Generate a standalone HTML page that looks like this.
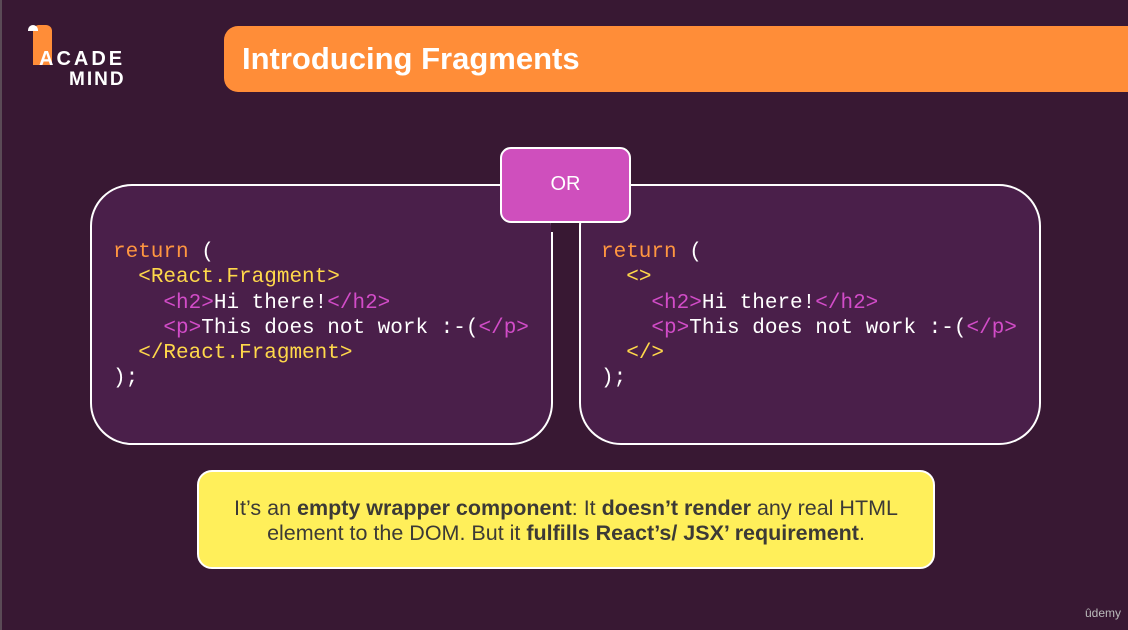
<!DOCTYPE html>
<html><head><meta charset="utf-8"><style>
*{margin:0;padding:0;box-sizing:border-box}
body{width:1128px;height:630px;background:#381833;position:relative;overflow:hidden;font-family:"Liberation Sans",sans-serif}
.abs{position:absolute}
.title{left:224px;top:26px;width:910px;height:66px;background:#ff8d38;border-radius:14px 0 0 14px;color:#fff;font-weight:bold;font-size:31px;line-height:66px;padding-left:18px}
.box{top:184px;height:261px;background:#4a1f4a;border:2.5px solid #fff;border-radius:42px}
.code{font-family:"Liberation Mono",monospace;font-size:21px;line-height:25.3px;color:#fff;white-space:pre;top:240px}
.o{color:#ff9640}.y{color:#ffd84a}.m{color:#d24cc8}
.or{left:500px;top:147px;width:131px;height:76px;background:#cf4fbd;border:2.5px solid #fff;border-radius:11px;color:#fff;font-size:20px;text-align:center;line-height:71px}
.yel{left:197px;top:470px;width:738px;height:99px;background:#ffef5a;border:2.5px solid #fff;border-radius:15px;color:#3c3a36;font-size:21.5px;line-height:25px;text-align:center;padding-top:24px}
</style></head><body>
<div class="abs" style="left:0;top:0;width:2px;height:630px;background:#5a4a56"></div>
<div class="abs" style="left:33px;top:25px;width:19px;height:40px;background:#ff8d38;border-radius:6px 6px 0 0"></div>
<div class="abs" style="left:28px;top:25px;width:10px;height:6px;background:#fff;border-radius:5px 5px 0 0"></div>
<div class="abs" style="left:39px;top:48px;color:#fff;font-weight:bold;font-size:20px;letter-spacing:3px">ACADE</div>
<div class="abs" style="left:69px;top:69px;color:#fff;font-weight:bold;font-size:19px;letter-spacing:2px">MIND</div>
<div class="abs title">Introducing Fragments</div>
<div class="abs box" style="left:90px;width:463px"></div>
<div class="abs box" style="left:579px;width:462px"></div>
<div class="abs code" style="left:113px"><span class="o">return</span> (
  <span class="y">&lt;React.Fragment&gt;</span>
    <span class="m">&lt;h2&gt;</span>Hi there!<span class="m">&lt;/h2&gt;</span>
    <span class="m">&lt;p&gt;</span>This does not work :-(<span class="m">&lt;/p&gt;</span>
  <span class="y">&lt;/React.Fragment&gt;</span>
);</div>
<div class="abs code" style="left:601px"><span class="o">return</span> (
  <span class="y">&lt;&gt;</span>
    <span class="m">&lt;h2&gt;</span>Hi there!<span class="m">&lt;/h2&gt;</span>
    <span class="m">&lt;p&gt;</span>This does not work :-(<span class="m">&lt;/p&gt;</span>
  <span class="y">&lt;/&gt;</span>
);</div>
<div class="abs" style="left:551px;top:222px;width:28px;height:10px;background:#381833"></div>
<div class="abs or">OR</div>
<div class="abs yel">It’s an <b>empty wrapper component</b>: It <b>doesn’t render</b> any real HTML<br>element to the DOM. But it <b>fulfills React’s/ JSX’ requirement</b>.</div>
<div class="abs" style="left:1085px;top:606px;color:#bbb;font-size:12px">ûdemy</div>
</body></html>
